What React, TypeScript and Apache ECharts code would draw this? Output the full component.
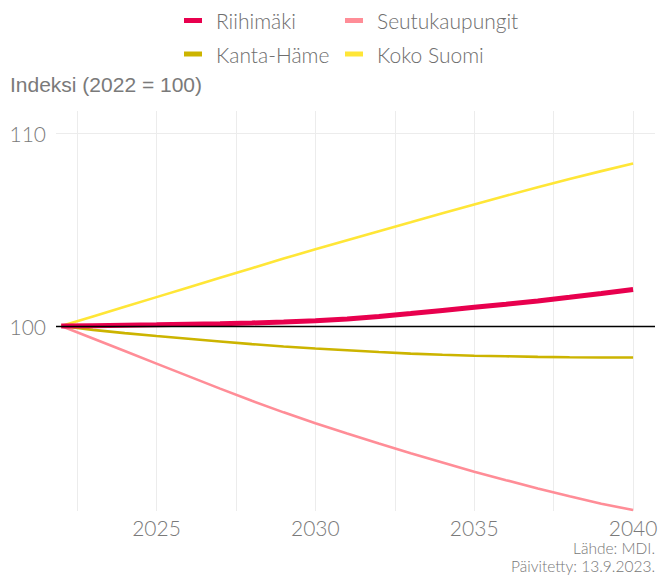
import React, { useEffect, useRef } from "react";
import * as echarts from "echarts";

const years = [2022, 2023, 2024, 2025, 2026, 2027, 2028, 2029, 2030, 2031, 2032, 2033, 2034, 2035, 2036, 2037, 2038, 2039, 2040];
const riihimaki = [100, 100.02, 100.04, 100.06, 100.09, 100.12, 100.16, 100.21, 100.27, 100.37, 100.5, 100.65, 100.81, 100.97, 101.13, 101.3, 101.49, 101.69, 101.9];
const seutukaupungit = [100, 99.35, 98.7, 98.05, 97.4, 96.75, 96.12, 95.52, 94.95, 94.42, 93.9, 93.4, 92.92, 92.44, 92.0, 91.57, 91.16, 90.78, 90.45];
const kantaHame = [100, 99.8, 99.63, 99.48, 99.34, 99.2, 99.06, 98.94, 98.83, 98.74, 98.65, 98.57, 98.51, 98.46, 98.43, 98.4, 98.38, 98.37, 98.37];
const kokoSuomi = [100, 100.5, 101.0, 101.5, 102.0, 102.5, 103.0, 103.5, 103.98, 104.45, 104.92, 105.38, 105.85, 106.31, 106.76, 107.2, 107.63, 108.04, 108.44];

const xTickLabels = [2025, 2030, 2035, 2040];
const xGridValues = [2022.5, 2025, 2027.5, 2030, 2032.5, 2035, 2037.5, 2040];
const yTickLabels = [100, 110];

const COLORS = {
  riihimaki: "#E8004E",
  seutukaupungit: "#FF8D97",
  kantaHame: "#CCB400",
  kokoSuomi: "#FFE637",
};

const FONT = "Lato, 'Noto Sans', sans-serif";

function pairs(vals: number[]) {
  return years.map((y, i) => [y, vals[i]]);
}

export default function App() {
  const ref = useRef<HTMLDivElement>(null);
  useEffect(() => {
    if (!ref.current) return;
    const chart = echarts.init(ref.current, undefined, { renderer: "svg" });
    const legendText = {
      fontFamily: FONT,
      fontWeight: 300,
      fontSize: 21,
      lineHeight: 21,
      color: "#6e6e6e",
      padding: [0, 0, 0, 9],
    };
    chart.setOption({
      animation: false,
      backgroundColor: "#ffffff",
      legend: [
        {
          data: ["Riihimäki", "Kanta-Häme"],
          orient: "vertical",
          left: 184,
          top: 10,
          padding: 0,
          itemGap: 12.5,
          itemWidth: 18,
          itemHeight: 5,
          icon: "rect",
          selectedMode: false,
          textStyle: legendText,
        },
        {
          data: ["Seutukaupungit", "Koko Suomi"],
          orient: "vertical",
          left: 345,
          top: 10,
          padding: 0,
          itemGap: 12.5,
          itemWidth: 18,
          itemHeight: 5,
          icon: "rect",
          selectedMode: false,
          textStyle: legendText,
        },
      ],
      grid: {
        left: 56,
        right: 3,
        top: 111,
        bottom: 70,
        containLabel: false,
        outerBoundsMode: "none",
      },
      xAxis: {
        type: "value",
        min: 2021.836,
        max: 2040.69,
        axisLine: { show: false },
        axisTick: { show: false, customValues: xGridValues },
        splitLine: { show: true, lineStyle: { color: "#ececec", width: 1 } },
        axisLabel: {
          customValues: xTickLabels,
          formatter: (v: number) => String(v),
          fontFamily: FONT,
          fontWeight: 300,
          fontSize: 21,
          lineHeight: 21,
          color: "#7a7a7a",
          margin: 6,
        },
      },
      yAxis: {
        type: "value",
        min: 90.4,
        max: 111.16,
        axisLine: { show: false },
        axisTick: { show: false, customValues: yTickLabels },
        splitLine: { show: true, lineStyle: { color: "#ececec", width: 1 } },
        axisLabel: {
          customValues: yTickLabels,
          formatter: (v: number) => String(v),
          fontFamily: FONT,
          fontWeight: 300,
          fontSize: 21,
          color: "#7a7a7a",
          margin: 10,
        },
      },
      graphic: [
        {
          type: "text",
          x: 10,
          y: 74,
          style: {
            text: "Indeksi (2022 = 100)",
            align: "left",
            verticalAlign: "top",
            fontFamily: "'Liberation Sans', Arial, sans-serif",
            fontWeight: "normal",
            fontSize: 21,
            lineHeight: 21,
            fill: "#7a7a7a",
          },
        },
        {
          type: "text",
          x: 655,
          y: 538.5,
          style: {
            text: "Lähde: MDI.\nPäivitetty: 13.9.2023.",
            align: "right",
            verticalAlign: "top",
            fontFamily: FONT,
            fontWeight: 300,
            fontSize: 15.5,
            lineHeight: 18.6,
            fill: "#777777",
          },
        },
      ],
      series: [
        {
          name: "Kanta-Häme",
          type: "line",
          data: pairs(kantaHame),
          showSymbol: false,
          symbol: "none",
          color: COLORS.kantaHame,
          lineStyle: { width: 2.6, color: COLORS.kantaHame },
        },
        {
          name: "Seutukaupungit",
          type: "line",
          data: pairs(seutukaupungit),
          showSymbol: false,
          symbol: "none",
          color: COLORS.seutukaupungit,
          lineStyle: { width: 2.6, color: COLORS.seutukaupungit },
        },
        {
          name: "Koko Suomi",
          type: "line",
          data: pairs(kokoSuomi),
          showSymbol: false,
          symbol: "none",
          color: COLORS.kokoSuomi,
          lineStyle: { width: 2.6, color: COLORS.kokoSuomi },
        },
        {
          name: "Riihimäki",
          type: "line",
          data: pairs(riihimaki),
          showSymbol: false,
          symbol: "none",
          color: COLORS.riihimaki,
          lineStyle: { width: 5, color: COLORS.riihimaki },
          markLine: {
            silent: true,
            symbol: "none",
            label: { show: false },
            lineStyle: { color: "#000000", width: 1.3, type: "solid" },
            data: [{ yAxis: 100 }],
          },
        },
      ],
    });
    return () => chart.dispose();
  }, []);
  return (
    <div
      ref={ref}
      style={{ position: "fixed", left: 0, top: 0, width: 658, height: 581 }}
    />
  );
}
